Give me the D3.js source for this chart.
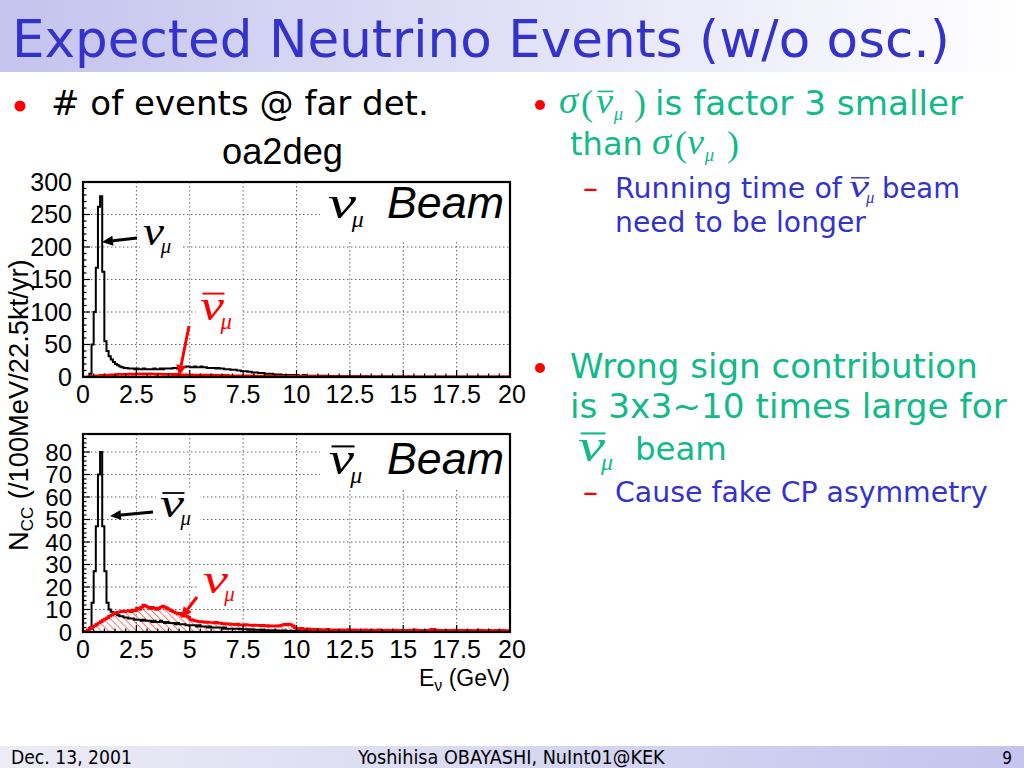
<!DOCTYPE html>
<html>
<head>
<meta charset="utf-8">
<script src="https://cdn.jsdelivr.net/npm/d3@7"></script>
<style>
  body { margin: 0; background: #fff; }
  svg { display: block; }
</style>
</head>
<body>
<script>
const width = 1024
const height = 768

// energy axis: 200 bins of 100 MeV from 0 to 20 GeV
const binWidth = 0.1
const xTicks = [0, 2.5, 5, 7.5, 10, 12.5, 15, 17.5, 20]

// nu_mu beam: right sign nu_mu (black), wrong sign anti-nu_mu (red)
const numuBeamNumu = [
  0, 0, 0, 5, 50, 100, 168, 262, 278, 162,
  55, 40, 32, 27, 23, 20, 18, 16, 15, 14,
  14, 13, 13, 13, 12, 13, 12, 12, 13, 12,
  12, 12, 12, 13, 12, 12, 13, 12, 13, 13,
  13, 13, 14, 14, 13, 14, 15, 15, 16, 16,
  15, 15, 16, 15, 15, 16, 15, 15, 14, 14,
  14, 14, 13, 14, 13, 13, 12, 12, 12, 11,
  11, 11, 10, 10, 9, 9, 9, 8, 8, 7,
  7, 7, 6, 6, 6, 5, 5, 5, 5, 4,
  4, 4, 4, 3, 3, 3, 3, 3, 3, 3,
  3, 2, 2, 3, 2, 2, 2, 2, 2, 2,
  2, 2, 1.5, 2, 1.5, 1.5, 1.5, 1, 1.5, 1,
  1, 1, 1, 1.2, 1, 0.8, 1, 0.8, 1, 0.8,
  0.8, 0.8, 1, 0.7, 0.8, 0.7, 0.8, 0.6, 0.7, 0.7,
  0.6, 0.7, 0.6, 0.6, 0.8, 0.6, 0.5, 0.6, 0.5, 0.6,
  0.5, 0.5, 0.6, 0.5, 0.4, 0.5, 0.5, 0.4, 0.5, 0.4,
  0.4, 0.5, 0.4, 0.4, 0.4, 0.3, 0.4, 0.4, 0.3, 0.4,
  0.3, 0.4, 0.3, 0.3, 0.3, 0.4, 0.3, 0.3, 0.3, 0.3,
  0.3, 0.3, 0.2, 0.3, 0.3, 0.2, 0.3, 0.2, 0.3, 0.2,
  0.2, 0.3, 0.2, 0.2, 0.2, 0.2, 0.2, 0.2, 0.2, 0.2
]
const numuBeamAnti = [
  0, 0, 0.2, 0.5, 1, 1.5, 2, 2, 2.5, 2.5,
  3, 3, 3, 3.5, 3.5, 3.5, 4, 4, 4, 4,
  4, 4.5, 4.5, 4, 4.5, 5, 4.5, 4.5, 5, 4.5,
  4.5, 5, 4.5, 4.5, 4, 4.5, 4.5, 4, 4, 4,
  4, 4, 3.5, 4, 3.5, 3.5, 3.5, 3.5, 3, 3.5,
  3.5, 3, 3, 3, 3, 3, 3, 2.5, 3, 2.5,
  3, 2.5, 2.5, 2.5, 2.5, 2.5, 2, 2.5, 2, 2,
  2, 2, 2, 2, 1.8, 2, 1.8, 1.8, 1.6, 1.8,
  1.6, 1.6, 1.5, 1.5, 1.5, 1.4, 1.4, 1.4, 1.3, 1.3,
  1.3, 1.2, 1.2, 1.2, 1.1, 1.2, 1.1, 1, 1.1, 1,
  1, 1, 1, 0.9, 1, 0.9, 0.9, 0.9, 0.8, 0.9,
  0.8, 0.8, 0.8, 0.8, 0.7, 0.8, 0.7, 0.7, 0.7, 0.7,
  0.7, 0.6, 0.7, 0.6, 0.6, 0.6, 0.6, 0.6, 0.5, 0.6,
  0.5, 0.5, 0.6, 0.5, 0.5, 0.5, 0.5, 0.4, 0.5, 0.5,
  0.4, 0.5, 0.4, 0.4, 0.5, 0.4, 0.4, 0.4, 0.4, 0.4,
  0.4, 0.4, 0.4, 0.3, 0.4, 0.4, 0.3, 0.4, 0.3, 0.3,
  0.3, 0.4, 0.3, 0.3, 0.3, 0.3, 0.3, 0.3, 0.3, 0.3,
  0.3, 0.3, 0.3, 0.3, 0.3, 0.3, 0.3, 0.3, 0.3, 0.3,
  0.3, 0.3, 0.3, 0.3, 0.3, 0.3, 0.3, 0.3, 0.3, 0.3,
  0.3, 0.3, 0.3, 0.3, 0.3, 0.3, 0.3, 0.3, 0.3, 0.3
]

// anti-nu_mu beam: right sign anti-nu_mu (black), wrong sign nu_mu (red)
const antiBeamAnti = [
  0, 0, 0, 2, 13, 27, 47, 70, 80, 47,
  27, 13, 10, 9, 8.5, 8, 7.5, 7, 7, 6.5,
  6.5, 6, 6, 6, 5.5, 5.5, 5.5, 5, 5.5, 5,
  5, 5, 4.5, 5, 4.5, 4.5, 5, 4.5, 4, 4.5,
  4, 4, 4, 3.5, 4, 3.5, 3.5, 3.5, 3, 3,
  3, 3, 3, 2.5, 3, 2.5, 2.5, 2.5, 2, 2.5,
  2, 2, 2, 2, 2, 1.5, 2, 1.5, 1.5, 1.5,
  1.5, 1.5, 1.5, 1.2, 1.5, 1.2, 1.2, 1, 1.2, 1,
  1, 1, 1, 0.8, 1, 0.8, 0.8, 0.8, 0.7, 0.8,
  0.7, 0.7, 0.6, 0.7, 0.6, 0.6, 0.5, 0.6, 0.5, 0.5,
  0.5, 0.5, 0.4, 0.5, 0.4, 0.4, 0.4, 0.5, 0.4, 0.4,
  0.4, 0.4, 0.3, 0.4, 0.4, 0.3, 0.3, 0.4, 0.3, 0.3,
  0.3, 0.3, 0.3, 0.3, 0.3, 0.3, 0.3, 0.2, 0.3, 0.3,
  0.2, 0.3, 0.2, 0.2, 0.3, 0.2, 0.2, 0.2, 0.2, 0.2,
  0.2, 0.2, 0.2, 0.2, 0.2, 0.2, 0.2, 0.2, 0.2, 0.2,
  0.2, 0.2, 0.2, 0.2, 0.2, 0.2, 0.2, 0.2, 0.2, 0.2,
  0.2, 0.2, 0.2, 0.2, 0.2, 0.2, 0.2, 0.2, 0.2, 0.2,
  0.2, 0.2, 0.2, 0.2, 0.2, 0.2, 0.2, 0.2, 0.2, 0.2,
  0.2, 0.2, 0.2, 0.2, 0.2, 0.2, 0.2, 0.2, 0.2, 0.2,
  0.2, 0.2, 0.2, 0.2, 0.2, 0.2, 0.2, 0.2, 0.2, 0.2
]
const antiBeamNumu = [
  0, 0.3, 1, 1.5, 2.2, 2.8, 3.4, 4, 4.6, 5.2,
  5.8, 6.3, 7, 7.5, 8.2, 8.6, 8.8, 9, 9.3, 9,
  9.2, 9.5, 9, 9.8, 9.5, 10.5, 10, 11, 12, 11.5,
  11, 10.5, 11, 10.5, 10, 10.5, 11, 11.5, 11, 10.5,
  10, 9.5, 9, 8.5, 8, 8.3, 7.5, 7, 7, 6.5,
  5.5, 5.3, 5, 4.8, 4.6, 4.6, 4.5, 4.3, 4.4, 4.2,
  4.2, 4, 4.3, 3.9, 4, 3.7, 3.8, 3.5, 3.6, 3.4,
  3.4, 3.2, 3.5, 3.1, 3.2, 3, 3.3, 3.1, 3, 2.9,
  3.1, 2.9, 3, 2.8, 3, 2.7, 2.9, 2.6, 2.8, 2.7,
  2.8, 2.6, 2.9, 3.1, 3.4, 3.3, 3.5, 3.2, 2.6, 1.8,
  1.5, 1.4, 1.6, 1.3, 1.2, 1.4, 1.1, 1.2, 1, 1.2,
  1, 1.1, 0.9, 1, 1.2, 0.9, 1, 0.8, 1, 0.9,
  0.9, 1, 0.8, 0.9, 1.1, 0.8, 0.9, 1, 0.8, 0.9,
  0.8, 0.9, 1, 0.8, 0.7, 0.9, 0.8, 0.8, 1, 0.8,
  0.7, 0.8, 0.9, 0.7, 0.8, 0.7, 0.9, 0.8, 0.7, 0.8,
  0.8, 0.7, 0.8, 0.9, 0.7, 1, 0.8, 0.7, 0.8, 0.7,
  0.8, 0.7, 0.9, 1.2, 1.1, 0.9, 0.8, 0.7, 0.8, 0.7,
  0.7, 0.8, 0.7, 0.8, 0.9, 0.7, 0.8, 0.7, 0.8, 0.7,
  0.7, 0.8, 0.7, 0.7, 0.8, 0.9, 0.7, 0.8, 0.7, 0.7,
  0.8, 0.7, 0.7, 0.8, 0.7, 0.7, 0.8, 0.7, 0.7, 0.6
]

const topYTicks = [0, 50, 100, 150, 200, 250, 300]
const botYTicks = [0, 10, 20, 30, 40, 50, 60, 70, 80]

const green = '#12b98a'
const blue = '#3333cc'
const red = '#ff0000'
const sans = 'Liberation Sans, Arial, sans-serif'
const verdana = 'DejaVu Sans, Verdana, sans-serif'
const serif = 'Liberation Serif, Times New Roman, serif'

const svg = d3.select('body')
  .append('svg')
  .attr('width', width)
  .attr('height', height)

const defs = svg.append('defs')

const titleGrad = defs.append('linearGradient').attr('id', 'titleGrad')
titleGrad.append('stop').attr('offset', '0%').attr('stop-color', '#c3c3ee')
titleGrad.append('stop').attr('offset', '55%').attr('stop-color', '#e4e4f7')
titleGrad.append('stop').attr('offset', '100%').attr('stop-color', '#ffffff')

const footGrad = defs.append('linearGradient').attr('id', 'footGrad')
footGrad.append('stop').attr('offset', '0%').attr('stop-color', '#ececf6')
footGrad.append('stop').attr('offset', '100%').attr('stop-color', '#c4c4ee')

defs.append('pattern')
  .attr('id', 'hatch')
  .attr('patternUnits', 'userSpaceOnUse')
  .attr('width', 5).attr('height', 5)
  .attr('patternTransform', 'rotate(-45)')
  .append('line')
    .attr('x1', 0).attr('y1', 0).attr('x2', 0).attr('y2', 5)
    .attr('stroke', red).attr('stroke-width', 1.1)

// shrink/grow a text's font size so it spans the given width
function fit(sel, w) {
  const len = sel.node().getComputedTextLength()
  const fs = parseFloat(sel.attr('font-size'))
  sel.attr('font-size', fs * w / len)
  return sel
}

// background bands
svg.append('rect').attr('x', 0).attr('y', 0).attr('width', width).attr('height', 72)
  .attr('fill', 'url(#titleGrad)')
svg.append('rect').attr('x', 0).attr('y', 746).attr('width', width).attr('height', 22)
  .attr('fill', 'url(#footGrad)')

fit(svg.append('text')
  .attr('x', 12).attr('y', 57)
  .attr('font-family', verdana).attr('font-size', 44)
  .attr('fill', blue)
  .text('Expected Neutrino Events (w/o osc.)'), 938)

// footer
const foot = svg.append('g')
  .attr('font-family', 'DejaVu Sans Condensed, DejaVu Sans, sans-serif')
  .attr('font-stretch', 'condensed')
  .attr('fill', '#000')
fit(foot.append('text').attr('x', 11).attr('y', 764).attr('font-size', 15).text('Dec. 13, 2001'), 121)
fit(foot.append('text').attr('x', 358).attr('y', 764).attr('font-size', 15).text('Yoshihisa OBAYASHI, NuInt01@KEK'), 307)
foot.append('text').attr('x', 1012).attr('y', 764).attr('font-size', 17)
  .attr('text-anchor', 'end').text('9')

// left bullet
svg.append('circle').attr('cx', 20).attr('cy', 106).attr('r', 5.5).attr('fill', red)
fit(svg.append('text').attr('x', 51).attr('y', 115)
  .attr('font-family', verdana).attr('font-size', 28)
  .text('# of events @ far det.'), 378)

fit(svg.append('text').attr('x', 222).attr('y', 164)
  .attr('font-family', sans).attr('font-size', 34)
  .text('oa2deg'), 121)

// neutrino glyph (stretched to width w) with subscript mu, optional bar
function nu(g, x, y, size, w, color, bar, subShift) {
  const t = g.append('g').attr('fill', color)
  t.append('text').attr('x', x).attr('y', y)
    .attr('font-family', serif).attr('font-style', 'italic')
    .attr('font-size', size)
    .attr('textLength', w).attr('lengthAdjust', 'spacingAndGlyphs')
    .text('ν')
  t.append('text').attr('x', x + w * (subShift || 0.85)).attr('y', y + size * 0.2)
    .attr('font-family', serif).attr('font-style', 'italic')
    .attr('font-size', size * 0.52).text('μ')
  if (bar) {
    t.append('line')
      .attr('x1', x + w * 0.1).attr('x2', x + w * 1.02)
      .attr('y1', y - size * 0.6).attr('y2', y - size * 0.6)
      .attr('stroke', color).attr('stroke-width', Math.max(1.3, size * 0.045))
  }
  return t
}

function arrow(g, x1, y1, x2, y2, color, w) {
  const a = Math.atan2(y2 - y1, x2 - x1)
  const L = 11, W = 5
  const bx = x2 - L * Math.cos(a), by = y2 - L * Math.sin(a)
  g.append('line')
    .attr('x1', x1).attr('y1', y1).attr('x2', bx).attr('y2', by)
    .attr('stroke', color).attr('stroke-width', w)
  g.append('path')
    .attr('d', `M${x2},${y2}L${bx + W * Math.sin(a)},${by - W * Math.cos(a)}L${bx - W * Math.sin(a)},${by + W * Math.cos(a)}Z`)
    .attr('fill', color)
}

function panel(cfg) {
  const x = d3.scaleLinear().domain([0, 20]).range([83, 510])
  const y = d3.scaleLinear().domain([0, cfg.ymax]).range([cfg.bottom, cfg.top])
  const g = svg.append('g')

  const clipId = 'clip' + cfg.top
  defs.append('clipPath').attr('id', clipId)
    .append('rect').attr('x', 83).attr('y', cfg.top)
    .attr('width', 427).attr('height', cfg.bottom - cfg.top)

  // dotted grid
  g.selectAll('.gx').data(xTicks.slice(1, -1)).enter().append('line')
    .attr('x1', d => x(d)).attr('x2', d => x(d))
    .attr('y1', cfg.top).attr('y2', cfg.bottom)
    .attr('stroke', '#666').attr('stroke-width', 1).attr('stroke-dasharray', '1.5,2.5')
  g.selectAll('.gy').data(cfg.yTicks.filter(d => d > 0 && d < cfg.ymax)).enter().append('line')
    .attr('x1', 83).attr('x2', 510)
    .attr('y1', d => y(d)).attr('y2', d => y(d))
    .attr('stroke', '#666').attr('stroke-width', 1).attr('stroke-dasharray', '1.5,2.5')

  // white label boxes hide the grid
  cfg.boxes.forEach(b => {
    g.append('rect').attr('x', b[0]).attr('y', b[1])
      .attr('width', b[2] - b[0]).attr('height', b[3] - b[1]).attr('fill', '#fff')
  })

  const pts = vals => {
    const p = vals.map((v, i) => [i * binWidth, v])
    p.push([20, vals[vals.length - 1]])
    return p
  }
  const line = d3.line().x(d => x(d[0])).y(d => y(d[1])).curve(d3.curveStepAfter)
  const area = d3.area().x(d => x(d[0])).y0(y(0)).y1(d => y(d[1])).curve(d3.curveStepAfter)

  const h = g.append('g').attr('clip-path', `url(#${clipId})`)
  h.append('path').attr('d', area(pts(cfg.red))).attr('fill', 'url(#hatch)')
  h.append('path').attr('d', line(pts(cfg.black)))
    .attr('fill', 'none').attr('stroke', '#000').attr('stroke-width', 2)
  h.append('path').attr('d', line(pts(cfg.red)))
    .attr('fill', 'none').attr('stroke', red).attr('stroke-width', 2.6)

  // ticks inside the frame
  const minorX = d3.range(0, 20.01, 0.5)
  g.selectAll('.mx').data(minorX).enter().append('line')
    .attr('x1', d => x(d)).attr('x2', d => x(d))
    .attr('y1', cfg.bottom).attr('y2', d => cfg.bottom - (d % 2.5 === 0 ? 7 : 3.5))
    .attr('stroke', '#000').attr('stroke-width', 1.2)
  const minorY = d3.range(0, cfg.ymax + 0.01, cfg.minor)
  g.selectAll('.my').data(minorY).enter().append('line')
    .attr('x1', 83).attr('x2', d => 83 + (cfg.yTicks.includes(d) ? 7 : 3.5))
    .attr('y1', d => y(d)).attr('y2', d => y(d))
    .attr('stroke', '#000').attr('stroke-width', 1.2)

  g.append('rect').attr('x', 83).attr('y', cfg.top)
    .attr('width', 427).attr('height', cfg.bottom - cfg.top)
    .attr('fill', 'none').attr('stroke', '#000').attr('stroke-width', 2.2)

  // tick labels
  g.selectAll('.ly').data(cfg.yTicks).enter().append('text')
    .attr('x', 72).attr('y', d => y(d) + 8.5)
    .attr('text-anchor', 'end')
    .attr('font-family', sans).attr('font-size', cfg.labelSize)
    .text(d => d)
  g.selectAll('.lx').data(xTicks).enter().append('text')
    .attr('x', d => x(d) + (d === 20 ? 2 : 0)).attr('y', cfg.bottom + 26)
    .attr('text-anchor', 'middle')
    .attr('font-family', sans).attr('font-size', 25)
    .text(d => d)

  // "Beam" label
  nu(g, cfg.beamNuX, cfg.beamY, 46, cfg.beamNuW, '#000', cfg.antiBeam)
  fit(g.append('text').attr('x', 387).attr('y', cfg.beamY)
    .attr('font-family', sans).attr('font-style', 'italic').attr('font-size', 40)
    .text('Beam'), 117)

  return g
}

const topPanel = panel({
  top: 182, bottom: 377, ymax: 300, minor: 10, yTicks: topYTicks, labelSize: 25,
  black: numuBeamNumu, red: numuBeamAnti, antiBeam: false,
  beamNuX: 328, beamNuW: 28, beamY: 218,
  boxes: [[320, 183, 509, 240], [140, 222, 181, 262], [196, 290, 241, 337]]
})
nu(topPanel, 143, 245, 40, 21, '#000', false)
arrow(topPanel, 137, 238, 102, 242, '#000', 3)
nu(topPanel, 200, 320, 44, 24, red, true)
arrow(topPanel, 189, 326, 179, 376, red, 3)

const botPanel = panel({
  top: 434, bottom: 632, ymax: 88, minor: 2, yTicks: botYTicks, labelSize: 24,
  black: antiBeamAnti, red: antiBeamNumu, antiBeam: true,
  beamNuX: 329, beamNuW: 25, beamY: 474,
  boxes: [[320, 435, 509, 488], [156, 488, 200, 532], [199, 570, 241, 606]]
})
nu(botPanel, 160, 517, 40, 24, '#000', true)
arrow(botPanel, 153, 512, 110, 516, '#000', 3)
nu(botPanel, 203, 593, 40, 25, red, false)
arrow(botPanel, 197, 597, 181, 618, red, 3)

// axis titles
const yl = svg.append('text')
  .attr('transform', 'translate(28,551) rotate(-90)')
  .attr('font-family', sans).attr('font-size', 25)
yl.append('tspan').text('N')
yl.append('tspan').attr('font-size', 17).attr('dy', 5).text('CC')
yl.append('tspan').attr('dy', -5).text(' (/100MeV/22.5kt/yr)')
fit(yl, 294)

const xl = svg.append('text')
  .attr('x', 510).attr('y', 686).attr('text-anchor', 'end')
  .attr('font-family', sans).attr('font-size', 23)
xl.append('tspan').text('E')
xl.append('tspan').attr('font-size', 16).attr('dy', 5).text('ν')
xl.append('tspan').attr('dy', -5).text(' (GeV)')

// right column text
const rc = svg.append('g')
rc.append('circle').attr('cx', 540).attr('cy', 105).attr('r', 5).attr('fill', red)
rc.append('circle').attr('cx', 540).attr('cy', 368).attr('r', 5).attr('fill', red)

function sym(g, x, y, s, size, color, italic, w) {
  const t = g.append('text').attr('x', x).attr('y', y)
    .attr('font-family', serif).attr('font-style', italic ? 'italic' : 'normal')
    .attr('font-size', size).attr('fill', color).text(s)
  if (w) t.attr('textLength', w).attr('lengthAdjust', 'spacingAndGlyphs')
  return t
}
function txt(g, x, y, s, size, color, w) {
  return fit(g.append('text').attr('x', x).attr('y', y)
    .attr('font-family', verdana).attr('font-size', size).attr('fill', color).text(s), w)
}

// line 1
sym(rc, 559, 113, 'σ', 38, green, true, 19)
sym(rc, 581, 115, '(', 36, green, false)
nu(rc, 596, 113, 36, 17, green, true, 1.05)
sym(rc, 634, 115, ')', 36, green, false)
txt(rc, 655, 115, 'is factor 3 smaller', 30, green, 308)
// line 2
txt(rc, 570, 155, 'than', 30, green, 73)
sym(rc, 652, 154, 'σ', 38, green, true, 19)
sym(rc, 675, 156, '(', 36, green, false)
nu(rc, 687, 154, 36, 17, green, false, 1.05)
sym(rc, 727, 156, ')', 36, green, false)
// sub-bullet
txt(rc, 583, 198, '–', 25, red, 15)
txt(rc, 615, 198, 'Running time of', 25, blue, 227)
nu(rc, 849, 197, 32, 20, blue, true)
txt(rc, 882, 198, 'beam', 25, blue, 78)
txt(rc, 615, 232, 'need to be longer', 25, blue, 251)

txt(rc, 570, 378, 'Wrong sign contribution', 30, green, 408)
txt(rc, 570, 418, 'is 3x3~10 times large for', 30, green, 437)
nu(rc, 578, 461, 46, 27, green, true)
txt(rc, 635, 460, 'beam', 30, green, 92)
txt(rc, 583, 502, '–', 25, red, 15)
txt(rc, 615, 502, 'Cause fake CP asymmetry', 25, blue, 373)
</script>
</body>
</html>
